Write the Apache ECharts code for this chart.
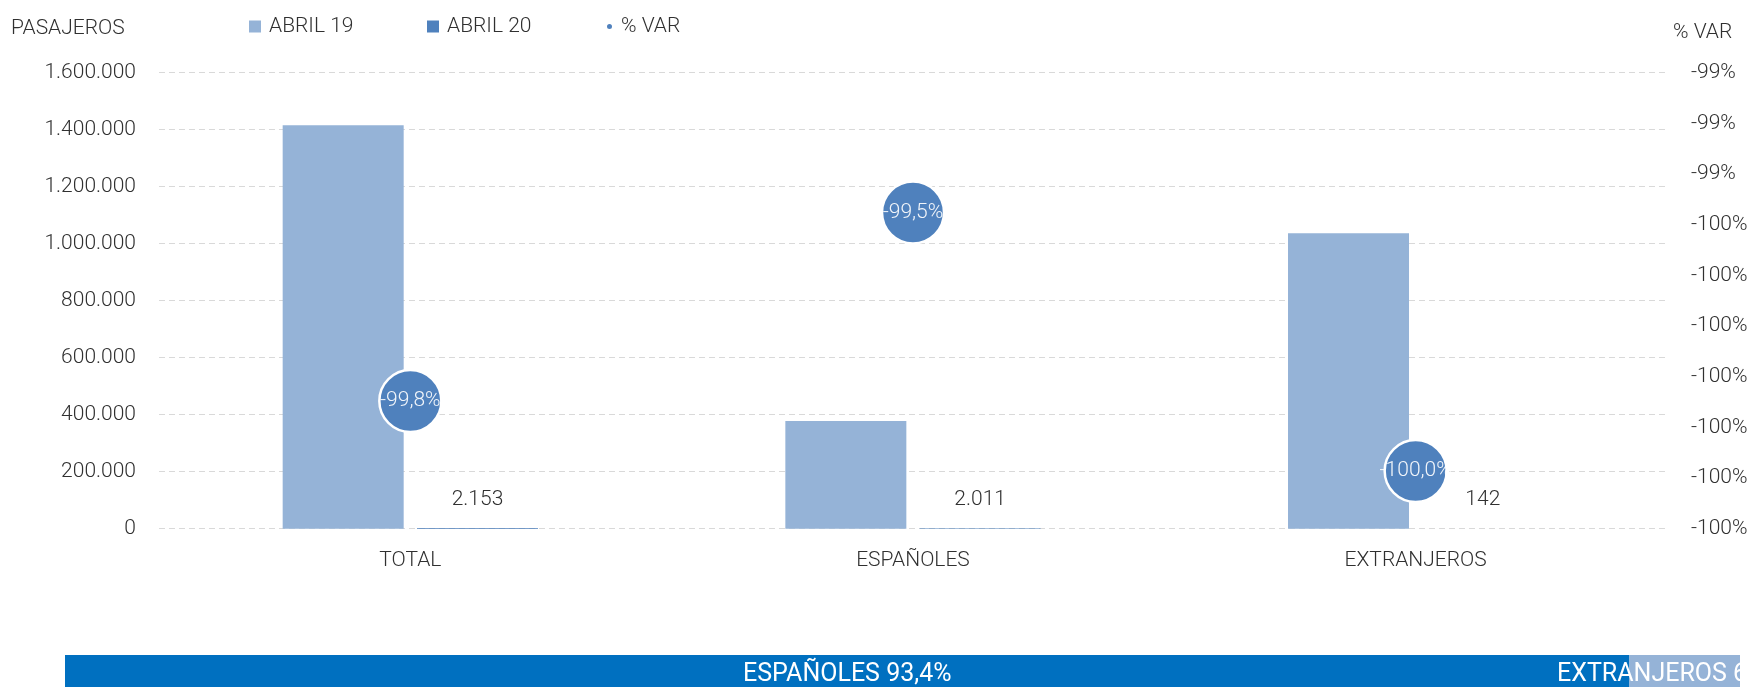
<!DOCTYPE html>
<html><head><meta charset="utf-8">
<script src="https://cdn.jsdelivr.net/npm/echarts@6/dist/echarts.min.js"></script>
<style>
html,body{margin:0;padding:0;overflow:hidden;background:#fff;width:1758px;height:687px}
#main{position:absolute;left:0;top:0;width:1758px;height:687px}
#strip{position:absolute;left:0;top:655px;width:1740px;height:40px}
</style></head><body>
<div id="main"></div><div id="strip"></div>
<script>
// ---- data ----
const categories = ['TOTAL', 'ESPAÑOLES', 'EXTRANJEROS'];
const abril19 = [1416000, 378000, 1036500];
const abril20 = [2153, 2011, 142];
const varPct = [-99.848, -99.476, -99.986];
const seriesNames = ['ABRIL 19', 'ABRIL 20', '% VAR'];
const leftAxisMin = 0, leftAxisMax = 1600000, leftAxisStep = 200000;
const rightAxisMin = -100.1, rightAxisMax = -99.2, rightAxisStep = 0.1;
const shareNames = ['ESPAÑOLES', 'EXTRANJEROS'];
const shareValues = [93.4, 6.6];

// ---- helpers ----
const FONT = 'Roboto, "Noto Sans", sans-serif';
const TXT = '#303030';
const W = 300;
function thousands(n) { return String(Math.round(n)).replace(/\B(?=(\d{3})+(?!\d))/g, '.'); }
function pctAxis(v) { const a = Math.round(Math.round(-v * 10) / 10); return (v < 0 ? '-' : '') + a + '%'; }
function pctLabel(v) { return v.toFixed(1).replace('.', ',') + '%'; }

const chart = echarts.init(document.getElementById('main'), null, { renderer: 'canvas' });
const legendText = { fontSize: 21, color: TXT, fontFamily: FONT, fontWeight: W, padding: [0, 0, 0, 3] };
chart.setOption({
  animation: false,
  textStyle: { fontFamily: FONT },
  title: [
    { text: 'PASAJEROS', left: 11, top: 18, padding: 0, textStyle: { fontSize: 21, fontWeight: W, color: TXT, fontFamily: FONT } },
    { text: '% VAR', left: 1673, top: 22, padding: 0, textStyle: { fontSize: 21, fontWeight: W, color: TXT, fontFamily: FONT } }
  ],
  legend: [
    { data: [seriesNames[0]], left: 249, top: 16, padding: 0, icon: 'rect', itemWidth: 12, itemHeight: 12, textStyle: legendText },
    { data: [seriesNames[1]], left: 427, top: 16, padding: 0, icon: 'rect', itemWidth: 12, itemHeight: 12, textStyle: legendText },
    { data: [seriesNames[2]], left: 605, top: 16, padding: 0, icon: 'circle', itemWidth: 7, itemHeight: 7, textStyle: legendText }
  ],
  grid: { left: 159, right: 91, top: 72.7, bottom: 158.3 },
  xAxis: {
    type: 'category', data: categories,
    axisLine: { show: false }, axisTick: { show: false },
    axisLabel: { fontSize: 21, color: TXT, margin: 22, fontFamily: FONT, fontWeight: W }
  },
  yAxis: [
    {
      type: 'value', min: leftAxisMin, max: leftAxisMax, interval: leftAxisStep,
      axisLine: { show: false }, axisTick: { show: false },
      axisLabel: { fontSize: 21, color: TXT, margin: 23, fontFamily: FONT, fontWeight: W, formatter: thousands },
      splitLine: { lineStyle: { color: '#d9d9d9', type: [6, 4], width: 1 } }
    },
    {
      type: 'value', min: rightAxisMin, max: rightAxisMax, interval: rightAxisStep,
      position: 'right',
      axisLine: { show: false }, axisTick: { show: false },
      axisLabel: { fontSize: 21, color: TXT, margin: 24, fontFamily: FONT, fontWeight: W, formatter: pctAxis },
      splitLine: { show: false }
    }
  ],
  series: [
    { name: seriesNames[0], type: 'bar', data: abril19, barWidth: 121, barGap: '11%',
      itemStyle: { color: '#95b3d7' } },
    { name: seriesNames[1], type: 'bar', data: abril20, barWidth: 121,
      itemStyle: { color: '#4f81bd' },
      label: { show: true, position: 'top', distance: 18, fontSize: 21, color: TXT, fontFamily: FONT, fontWeight: W,
        formatter: p => thousands(p.value) } },
    { name: seriesNames[2], type: 'scatter', yAxisIndex: 1, data: varPct, symbol: 'circle', symbolSize: 62,
      itemStyle: { color: '#4f81bd', borderColor: '#ffffff', borderWidth: 2.5, opacity: 1 },
      z: 5,
      label: { show: true, position: 'inside', fontSize: 21, color: 'rgba(255,255,255,0.92)', fontFamily: FONT, fontWeight: W,
        formatter: p => pctLabel(p.value) } }
  ]
});

const strip = echarts.init(document.getElementById('strip'), null, { renderer: 'canvas' });
strip.setOption({
  animation: false,
  grid: { left: 65, right: 0, top: 0, bottom: 0 },
  xAxis: { type: 'value', min: 0, max: 100, show: false },
  yAxis: { type: 'category', data: ['share'], show: false },
  series: shareNames.map((n, i) => ({
    name: n, type: 'bar', stack: 'share', data: [shareValues[i]], barWidth: '100%',
    itemStyle: { color: i === 0 ? '#0070c0' : '#95b3d7' },
    label: { show: true, position: 'inside', color: '#ffffff', fontSize: 25, fontFamily: FONT,
      offset: i === 0 ? [0, 0] : [-14, 0],
      formatter: () => n + ' ' + String(shareValues[i]).replace('.', ',') + '%' }
  }))
});
</script>
</body></html>
